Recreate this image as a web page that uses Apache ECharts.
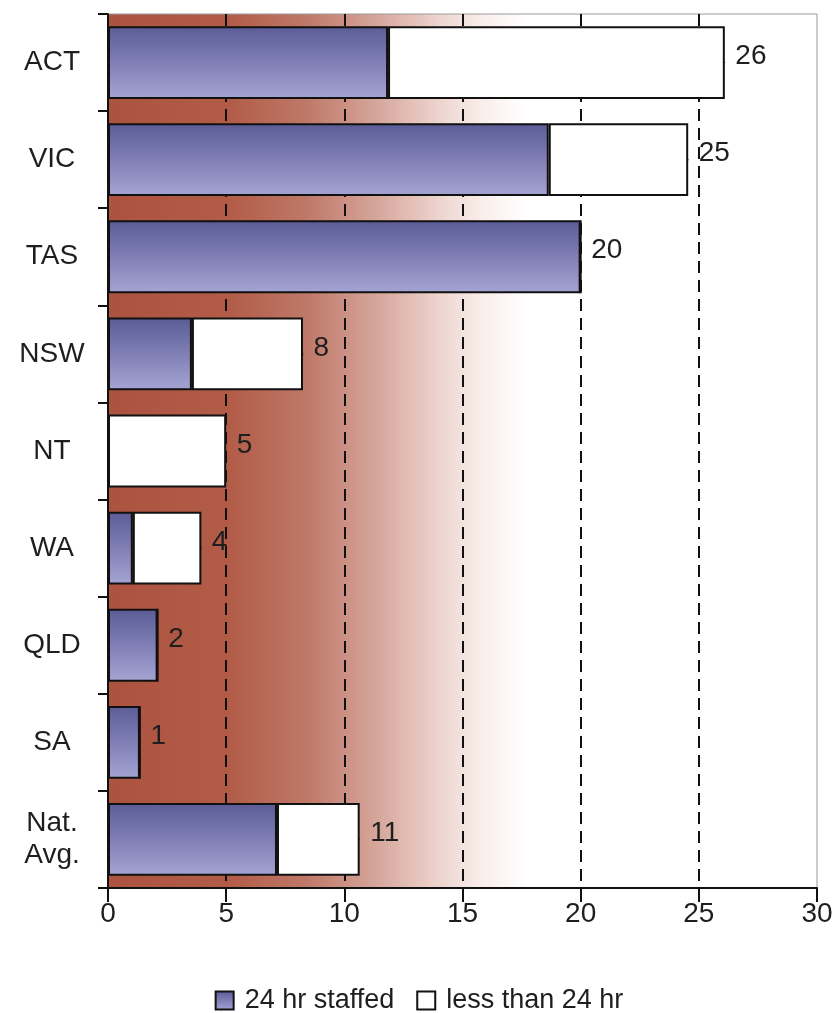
<!DOCTYPE html>
<html>
<head>
<meta charset="utf-8">
<script src="https://cdn.jsdelivr.net/npm/echarts@6/dist/echarts.min.js"></script>
<style>
  html, body { margin: 0; padding: 0; background: #ffffff; }
  #chart { width: 838px; height: 1013px; }
</style>
</head>
<body>
<div id="chart"></div>
<script>
// Jurisdictions, top to bottom
const categories = ['ACT', 'VIC', 'TAS', 'NSW', 'NT', 'WA', 'QLD', 'SA', 'Nat.\nAvg.'];
// Services staffed around the clock
const staffed24 = [11.85, 18.65, 20, 3.55, 0, 1.05, 2.1, 1.35, 7.15];
// Services staffed for less than 24 hours
const lessThan24 = [14.25, 5.9, 0, 4.7, 5.0, 2.9, 0, 0, 3.5];
// Value axis ticks
const xTicks = [0, 5, 10, 15, 20, 25, 30];

const seriesNames = ['24 hr staffed', 'less than 24 hr'];
const totals = staffed24.map((v, i) => v + lessThan24[i]);

const FONT = '"Liberation Sans", Arial, Helvetica, sans-serif';
const TEXT = '#1e1e1e';

const chart = echarts.init(document.getElementById('chart'), null, { renderer: 'canvas' });

const option = {
  backgroundColor: '#ffffff',
  animation: false,
  textStyle: { fontFamily: FONT },
  grid: {
    show: true,
    left: 108,
    right: 21,
    top: 14,
    bottom: 125,
    borderColor: '#9a9a9a',
    borderWidth: 1,
    backgroundColor: new echarts.graphic.LinearGradient(0, 0, 1, 0, [
      { offset: 0.00, color: '#ac5340' },
      { offset: 0.17, color: '#b25c48' },
      { offset: 0.28, color: '#bf7868' },
      { offset: 0.38, color: '#d6a69b' },
      { offset: 0.47, color: '#eed6d0' },
      { offset: 0.53, color: '#f9efec' },
      { offset: 0.59, color: '#ffffff' },
      { offset: 1.00, color: '#ffffff' }
    ])
  },
  legend: {
    data: seriesNames,
    bottom: -6,
    left: 'center',
    icon: 'rect',
    itemWidth: 18,
    itemHeight: 18,
    itemGap: 22,
    textStyle: { fontSize: 27, color: TEXT, fontFamily: FONT, padding: [0, 0, 0, 6] }
  },
  xAxis: {
    type: 'value',
    min: xTicks[0],
    max: xTicks[xTicks.length - 1],
    interval: xTicks[1] - xTicks[0],
    axisLine: { show: true, lineStyle: { color: '#111111', width: 2 } },
    axisTick: { show: true, length: 14, lineStyle: { color: '#111111', width: 2 } },
    axisLabel: { fontSize: 28, color: TEXT, margin: 12, fontFamily: FONT },
    splitLine: {
      show: true,
      lineStyle: {
        color: ['rgba(0,0,0,0)', '#111111', '#111111', '#111111', '#111111', '#111111', 'rgba(0,0,0,0)'],
        width: 2,
        type: [12, 7]
      }
    }
  },
  yAxis: {
    type: 'category',
    data: categories,
    inverse: true,
    axisLine: { show: true, lineStyle: { color: '#111111', width: 2 } },
    axisTick: { show: true, length: 10, lineStyle: { color: '#111111', width: 2 } },
    axisLabel: {
      fontSize: 28,
      color: TEXT,
      align: 'center',
      margin: 56,
      lineHeight: 32,
      fontFamily: FONT
    },
    splitLine: { show: false }
  },
  series: [
    {
      name: seriesNames[0],
      type: 'bar',
      stack: 'total',
      barCategoryGap: '25%',
      data: staffed24,
      itemStyle: {
        color: new echarts.graphic.LinearGradient(0, 0, 0, 1, [
          { offset: 0, color: '#5b5b97' },
          { offset: 1, color: '#a4a4d4' }
        ]),
        borderColor: '#111111',
        borderWidth: 2
      }
    },
    {
      name: seriesNames[1],
      type: 'bar',
      stack: 'total',
      barCategoryGap: '25%',
      data: lessThan24,
      itemStyle: {
        color: '#ffffff',
        borderColor: '#111111',
        borderWidth: 2
      }
    },
    {
      // Total per jurisdiction, written just past the end of each stack;
      // the anchor dot sits on the bar's black end border
      name: 'total',
      type: 'scatter',
      data: totals.map((t, i) => [t, categories[i]]),
      symbol: 'circle',
      symbolSize: 1,
      itemStyle: { color: '#111111', opacity: 1 },
      silent: true,
      label: {
        show: true,
        position: 'right',
        distance: 10,
        offset: [0, -6],
        fontSize: 28,
        color: TEXT,
        opacity: 1,
        fontFamily: FONT,
        formatter: p => String(Math.round(p.value[0]))
      },
      z: 5
    }
  ]
};

chart.setOption(option);
</script>
</body>
</html>
